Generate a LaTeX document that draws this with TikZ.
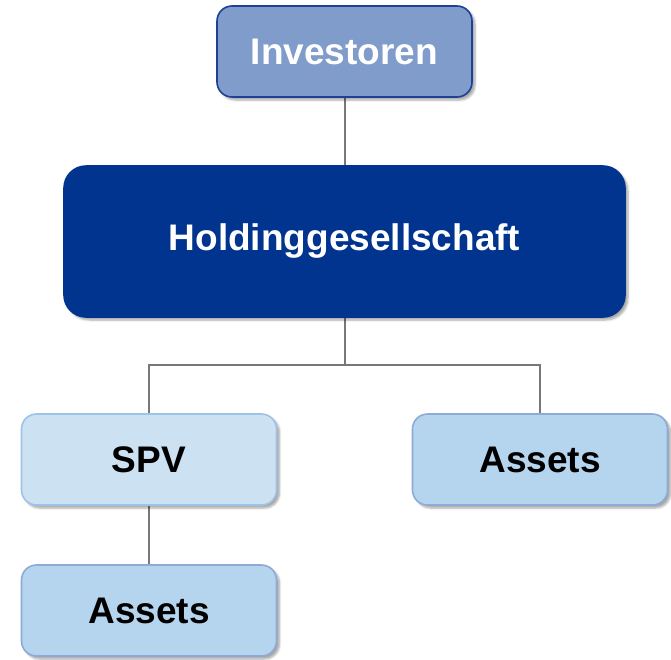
\documentclass[tikz,border=0pt]{standalone}
\usepackage{fontspec}
\setmainfont{Liberation Sans}
\usetikzlibrary{shadows.blur}
\definecolor{invfill}{RGB}{127,156,203}
\definecolor{invline}{RGB}{30,64,150}
\definecolor{holdfill}{RGB}{0,52,142}
\definecolor{spvfill}{RGB}{204,225,242}
\definecolor{spvline}{RGB}{157,195,230}
\definecolor{assetfill}{RGB}{181,212,238}
\definecolor{assetline}{RGB}{143,170,215}
\definecolor{linkgray}{RGB}{120,120,120}
\tikzset{
  orgbox/.style={rectangle, rounded corners=15pt, inner sep=0pt,
    minimum width=255pt, minimum height=91pt, line width=1.6pt,
    font=\fontsize{37}{44}\selectfont\bfseries,
    blur shadow={shadow xshift=3pt, shadow yshift=-3pt, shadow blur steps=6, shadow opacity=35}},
  invbox/.style={orgbox, fill=invfill, draw=invline, text=white},
  holdbox/.style={orgbox, fill=holdfill, draw=holdfill, text=white,
    rounded corners=22pt, minimum width=561pt, minimum height=151pt},
  spvbox/.style={orgbox, fill=spvfill, draw=spvline, text=black},
  assetbox/.style={orgbox, fill=assetfill, draw=assetline, text=black},
  link/.style={draw=linkgray, line width=2pt}
}
\begin{document}
\begin{tikzpicture}[x=1pt, y=-1pt]
  \useasboundingbox (0,0) rectangle (671,659);
  % connectors
  \coordinate (bus) at (344.5,365);
  \coordinate (invc) at (344.5,51.5);
  \coordinate (holdc) at (344.5,241.5);
  \coordinate (spvc) at (149,459.5);
  \coordinate (arc) at (540,459.5);
  \coordinate (abc) at (149,610.5);
  \draw[link] (invc) -- (holdc);
  \draw[link] (holdc) -- (bus) -| (spvc);
  \draw[link] (bus) -| (arc);
  \draw[link] (spvc) -- (abc);
  % boxes
  \node[invbox] (inv) at (invc) {Investoren};
  \node[holdbox] (hold) at (holdc) {Holdinggesellschaft};
  \node[spvbox] (spv) at (spvc) {SPV};
  \node[assetbox] (ar) at (arc) {Assets};
  \node[assetbox] (ab) at (abc) {Assets};
\end{tikzpicture}
\end{document}
